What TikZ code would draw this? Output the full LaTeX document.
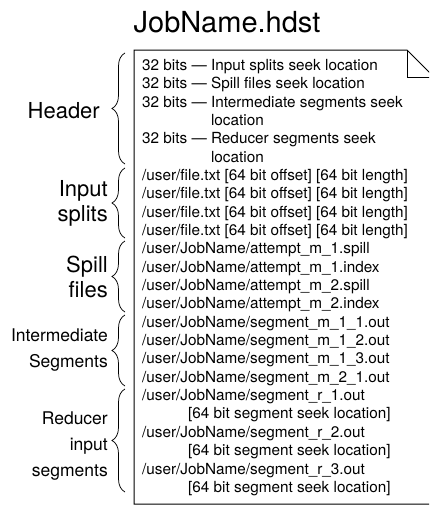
\documentclass[tikz,border=0pt]{standalone}
\usepackage{fontspec}
\setmainfont{TeX Gyre Heros}
\usetikzlibrary{decorations.pathreplacing}
\newcommand{\contind}{\phantom{32 bits — }}
\newcommand{\seekind}{\hspace{46pt}}
\tikzset{
  entry/.style={
    anchor=base west,
    inner sep=0pt,
    font=\fontsize{15.3}{18}\selectfont
  },
  biglabel/.style={
    anchor=east,
    align=right,
    inner sep=0pt,
    font=\fontsize{22}{25}\selectfont
  },
  smalllabel/.style={
    anchor=east,
    align=right,
    inner sep=0pt,
    font=\fontsize{17.5}{26}\selectfont
  },
  grp/.style={
    decorate,
    decoration={brace,amplitude=13pt},
    line width=0.75pt
  },
  page/.style={
    line width=1pt,
    line join=miter
  }
}
\begin{document}
\begin{tikzpicture}[x=1pt,y=-1pt]
  \useasboundingbox (0,0) rectangle (429,506);
  \clip (0,0) rectangle (429,506);
  \node[anchor=base,inner sep=0pt,font=\fontsize{29}{32}\selectfont] (title) at (227,32) {JobName.hdst};
  % file outline with folded corner
  \coordinate (fold) at (407,50);
  \draw[page] (434,77) -- (fold) -- (134,50) -- (134,504) -- (440,504);
  \draw[page] (fold) -- (407,77) -- (440,77);
  \draw[page] (434,77) -- (434,504);
  % file contents
  \foreach \txt [count=\i] in {
      {32 bits — Input splits seek location},
      {32 bits — Spill files seek location},
      {32 bits — Intermediate segments seek},
      {\contind location},
      {32 bits — Reducer segments seek},
      {\contind location},
      {/user/file.txt [64 bit offset] [64 bit length]},
      {/user/file.txt [64 bit offset] [64 bit length]},
      {/user/file.txt [64 bit offset] [64 bit length]},
      {/user/file.txt [64 bit offset] [64 bit length]},
      {/user/JobName/attempt\_m\_1.spill},
      {/user/JobName/attempt\_m\_1.index},
      {/user/JobName/attempt\_m\_2.spill},
      {/user/JobName/attempt\_m\_2.index},
      {/user/JobName/segment\_m\_1\_1.out},
      {/user/JobName/segment\_m\_1\_2.out},
      {/user/JobName/segment\_m\_1\_3.out},
      {/user/JobName/segment\_m\_2\_1.out},
      {/user/JobName/segment\_r\_1.out},
      {\seekind[64 bit segment seek location]},
      {/user/JobName/segment\_r\_2.out},
      {\seekind[64 bit segment seek location]},
      {/user/JobName/segment\_r\_3.out},
      {\seekind[64 bit segment seek location]}}{
    \node[entry] (l\i) at (142,{70.3+(\i-1)*18.35}) {\txt};
  }
  % sections
  \foreach \a/\b in {53/164,168/238,241/312,315/386,389/492}{
    \draw[grp] (125,\b) -- (125,\a);
  }
  \node[biglabel] (header) at (100,111) {Header};
  \node[biglabel] (splits) at (108,203) {Input\\splits};
  \node[biglabel] (spill) at (108,277) {Spill\\files};
  \node[smalllabel] (inter) at (108,350) {Intermediate\\Segments};
  \node[smalllabel] (reducer) at (108,446) {Reducer\\input\\segments};
\end{tikzpicture}
\end{document}
